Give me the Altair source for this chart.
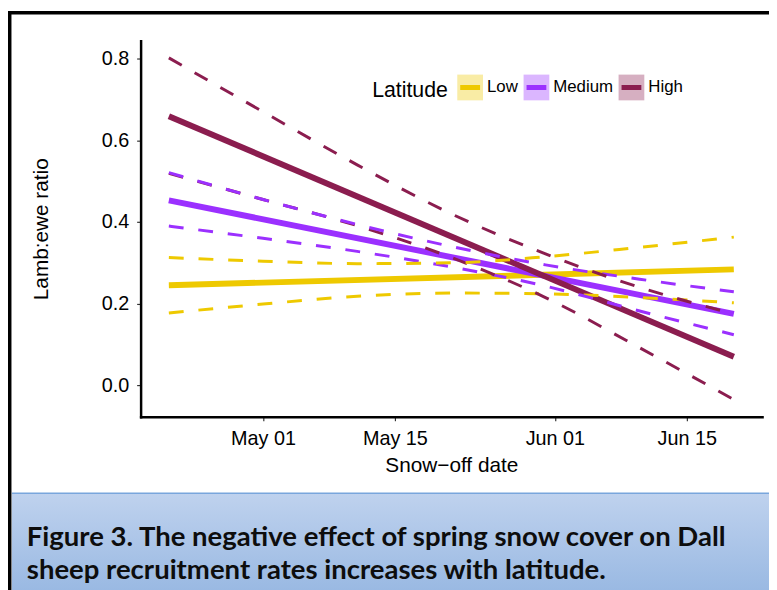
import altair as alt
import pandas as pd

# ---------------- data ----------------
latitudes = ["Low", "Medium", "High"]
colors = ["#EEC900", "#9B30FF", "#8B1D4F"]

fit_dates = ["2015-04-21", "2015-06-20"]
fit_low = [0.245, 0.284]
fit_medium = [0.453, 0.175]
fit_high = [0.659, 0.070]

band_dates = ["2015-04-21", "2015-05-01", "2015-05-11", "2015-05-21",
              "2015-05-31", "2015-06-10", "2015-06-20"]
low_upper = [0.313, 0.304, 0.298, 0.300, 0.315, 0.338, 0.363]
low_lower = [0.177, 0.199, 0.218, 0.226, 0.224, 0.215, 0.202]
medium_upper = [0.521, 0.455, 0.394, 0.340, 0.295, 0.260, 0.229]
medium_lower = [0.390, 0.360, 0.328, 0.290, 0.243, 0.182, 0.124]
high_upper = [0.802, 0.670, 0.540, 0.420, 0.322, 0.240, 0.175]
high_lower = [0.519, 0.455, 0.391, 0.313, 0.215, 0.092, -0.035]

tick_dates = ["2015-05-01", "2015-05-15", "2015-06-01", "2015-06-15"]
x_domain = ["2015-04-18", "2015-06-23"]
y_domain = [-0.077, 0.844]
y_ticks = [0.0, 0.2, 0.4, 0.6, 0.8]

x_title = "Snow\u2212off date"
y_title = "Lamb:ewe ratio"
legend_title = "Latitude"
caption_lines = ["Figure 3. The negative effect of spring snow cover on Dall",
                 "sheep recruitment rates increases with latitude."]


def ms(d):
    return int(pd.Timestamp(d, tz="UTC").value // 10**6)


fits = {"Low": fit_low, "Medium": fit_medium, "High": fit_high}
bands = {("Low", "lower"): low_lower, ("Medium", "lower"): medium_lower,
         ("High", "lower"): high_lower, ("Low", "upper"): low_upper,
         ("Medium", "upper"): medium_upper, ("High", "upper"): high_upper}

fit_rows = []
for lat in latitudes:
    for d, v in zip(fit_dates, fits[lat]):
        fit_rows.append({"t": ms(d), "v": v, "Latitude": lat})
fit_df = pd.DataFrame(fit_rows)

band_rows = []
for (lat, bound), vals in bands.items():
    for d, v in zip(band_dates, vals):
        band_rows.append({"t": ms(d), "v": v, "Latitude": lat, "bound": bound})
band_df = pd.DataFrame(band_rows)

FONT = "Liberation Sans"

x_enc = alt.X("t:T", title=x_title,
              scale=alt.Scale(type="utc", domain=[ms(d) for d in x_domain]),
              axis=alt.Axis(values=[ms(d) for d in tick_dates],
                            labelExpr="utcFormat(datum.value, '%b %d')",
                            titleX=314, titleY=49,
                            titleBaseline="middle", labelPadding=8))
y_enc = alt.Y("v:Q", title=y_title,
              scale=alt.Scale(domain=y_domain, nice=False, zero=False),
              axis=alt.Axis(values=y_ticks, format=".1f", titleX=-100, titleY=190,
                            titleBaseline="middle", titleAlign="center",
                            labelPadding=8))

common_legend = dict(orient="none", legendX=234, legendY=31.5, direction="horizontal",
                     titleOrient="left", titleFont=FONT, titleFontSize=21.5,
                     titleFontWeight="normal", titlePadding=6.5,
                     titleAnchor="middle", titleBaseline="middle",
                     labelFont=FONT, labelFontSize=17, labelOffset=1.5,
                     columnPadding=-5, padding=0, symbolSize=676,
                     symbolStrokeWidth=5)

legend_line = alt.Legend(title=legend_title, titleColor="black", labelColor="black",
                         symbolType="M-1,-1M1,1M-0.77,0L0.77,0",
                         symbolDash=[1, 0], **common_legend)
legend_bg = alt.Legend(title=legend_title, titleColor="transparent",
                       labelColor="transparent", symbolType="square",
                       symbolOpacity=0.35, symbolStrokeColor="transparent",
                       **common_legend)

stroke_scale = alt.Scale(domain=latitudes, range=colors)

fit_layer = alt.Chart(fit_df).mark_line(strokeWidth=6, strokeCap="butt").encode(
    x=x_enc, y=y_enc,
    stroke=alt.Stroke("Latitude:N", scale=stroke_scale, legend=legend_line),
)

band_layer = alt.Chart(band_df).mark_line(
    strokeWidth=3, strokeDash=[15, 15], strokeCap="butt", interpolate="monotone"
).encode(
    x=x_enc, y=y_enc,
    stroke=alt.Stroke("Latitude:N", scale=stroke_scale, legend=None),
    detail="bound:N",
)

key_layer = alt.Chart(fit_df).mark_point(filled=True, opacity=0).encode(
    x=x_enc, y=y_enc,
    fill=alt.Fill("Latitude:N", sort=latitudes, scale=alt.Scale(range=colors),
                  legend=legend_bg),
)

one = pd.DataFrame({"k": [0]})

caption_box = alt.Chart(one).mark_rect(
    fill=alt.Gradient(gradient="linear",
                      stops=[alt.GradientStop(color="#BFD2EE", offset=0),
                             alt.GradientStop(color="#98B8E2", offset=1)],
                      x1=0, x2=0, y1=0, y2=1)
).encode(x=alt.value(-130), x2=alt.value(640), y=alt.value(457), y2=alt.value(560))

caption_border = alt.Chart(one).mark_rect(fill="#79A6DC").encode(
    x=alt.value(-130), x2=alt.value(640), y=alt.value(456.5), y2=alt.value(458))

frame_left = alt.Chart(one).mark_rect(fill="black").encode(
    x=alt.value(-134), x2=alt.value(-130.5), y=alt.value(-30), y2=alt.value(560))
frame_top = alt.Chart(one).mark_rect(fill="black").encode(
    x=alt.value(-134), x2=alt.value(640), y=alt.value(-30), y2=alt.value(-26.5))

cap_style = dict(align="left", baseline="alphabetic", font="Lato",
                 fontWeight="bold", fontSize=27.8, color="#0d0d0d")
cap1 = alt.Chart(one).mark_text(**cap_style).encode(
    x=alt.value(-115), y=alt.value(511), text=alt.value(caption_lines[0]))
cap2 = alt.Chart(one).mark_text(**cap_style).encode(
    x=alt.value(-115), y=alt.value(543.5), text=alt.value(caption_lines[1]))

chart = alt.layer(
    caption_box, caption_border, frame_left, frame_top, cap1, cap2,
    fit_layer, band_layer, key_layer,
).properties(
    width=628, height=380,
    autosize=alt.AutoSizeParams(type="none"),
    padding={"left": 134, "top": 30, "right": 7, "bottom": 172},
    background="white",
).configure_view(stroke=None).configure_axis(
    grid=False, domainColor="black", domainWidth=2.5, domainCap="square",
    tickColor="#333333", tickWidth=1.2, tickSize=4,
    labelFont=FONT, labelFontSize=20, labelColor="black",
    titleFont=FONT, titleFontSize=21, titleFontWeight="normal", titleColor="black",
)

chart.save("out.html", embed_options={"renderer": "svg", "actions": False})
